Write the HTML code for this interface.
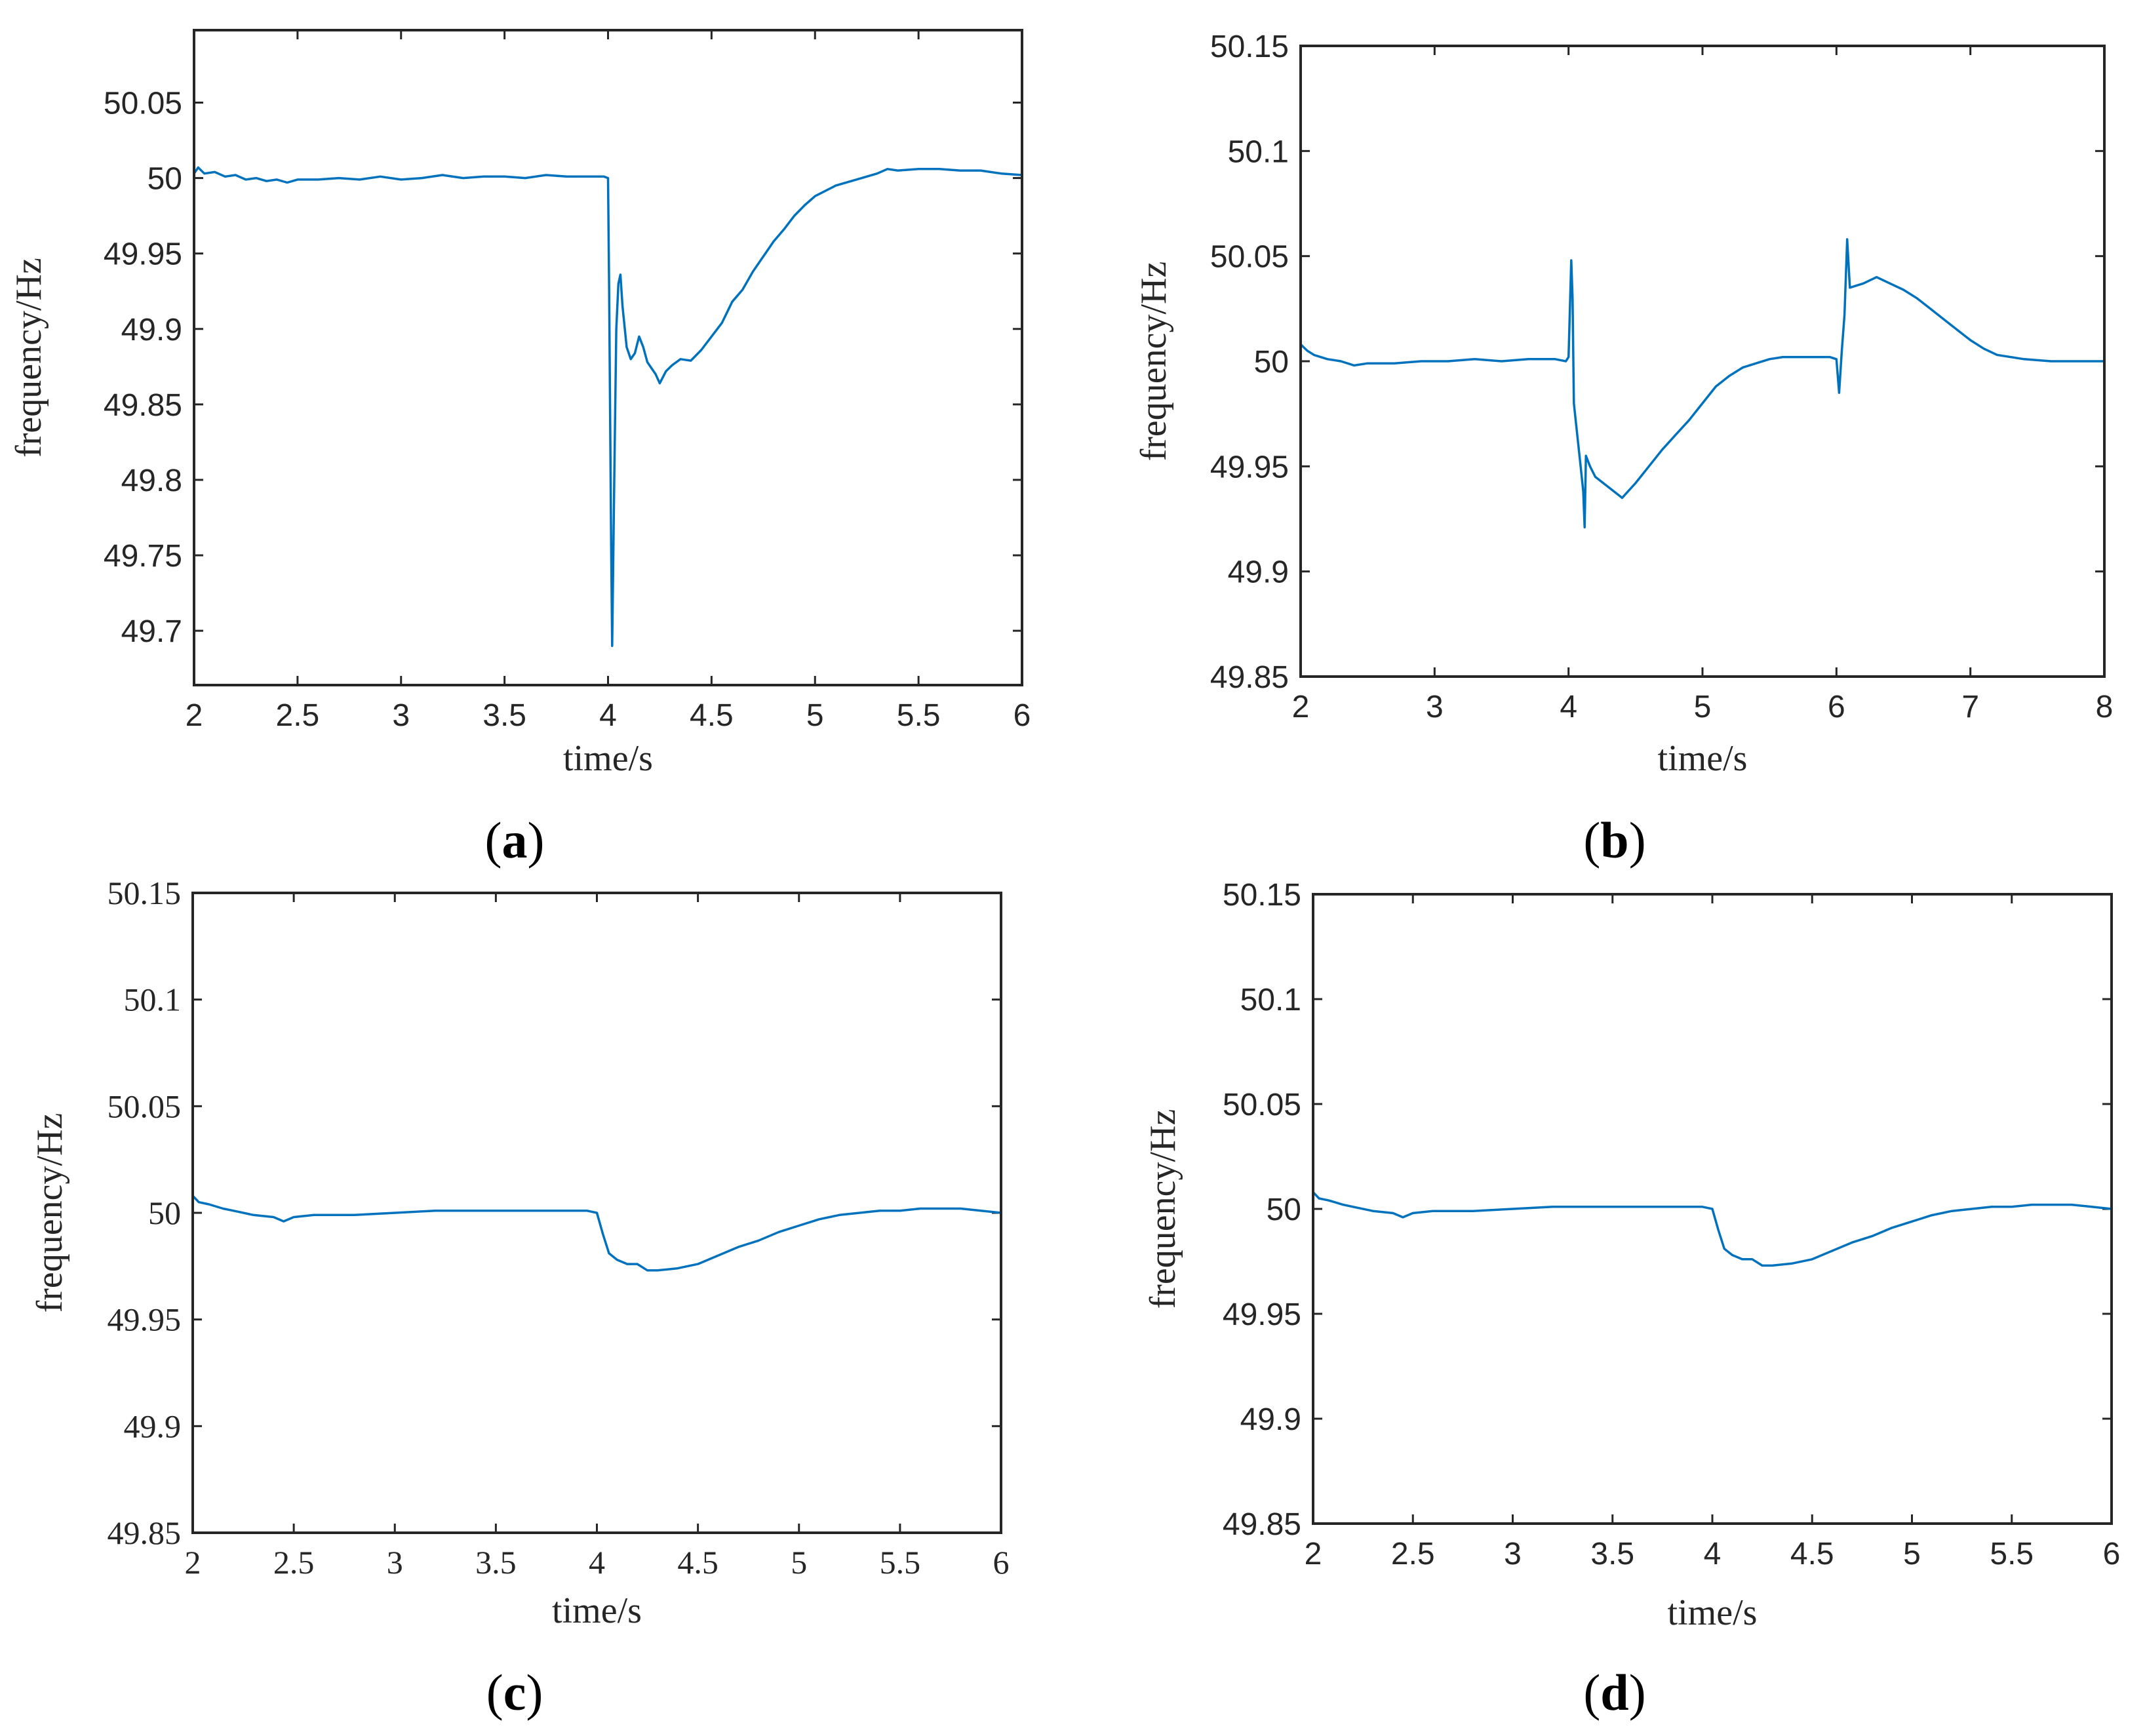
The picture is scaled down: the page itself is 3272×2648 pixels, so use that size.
<!DOCTYPE html>
<html><head><meta charset="utf-8"><style>
html,body{margin:0;padding:0;background:#fff;}
svg{display:block;}
</style></head><body>
<svg id="fig" width="3272" height="2648" viewBox="0 0 3272 2648" xmlns="http://www.w3.org/2000/svg"></svg>
<script>
// ---- data (panel a) ----
const timeA = [2.0,2.02,2.05,2.1,2.15,2.2,2.25,2.3,2.35,2.4,2.45,2.5,2.6,2.7,2.8,2.9,3.0,3.1,3.2,3.3,3.4,3.5,3.6,3.7,3.8,3.9,3.98,4.0,4.005,4.015,4.02,4.03,4.04,4.05,4.06,4.07,4.09,4.11,4.13,4.15,4.17,4.19,4.21,4.23,4.25,4.28,4.31,4.35,4.4,4.45,4.5,4.55,4.6,4.65,4.7,4.75,4.8,4.85,4.9,4.95,5.0,5.1,5.2,5.3,5.35,5.4,5.5,5.6,5.7,5.8,5.9,6.0];
const freqA = [50.003,50.007,50.003,50.004,50.001,50.002,49.999,50.000,49.998,49.999,49.997,49.999,49.999,50.000,49.999,50.001,49.999,50.000,50.002,50.000,50.001,50.001,50.000,50.002,50.001,50.001,50.001,50.000,49.930,49.760,49.690,49.800,49.900,49.930,49.936,49.915,49.888,49.880,49.884,49.895,49.888,49.878,49.874,49.870,49.864,49.872,49.876,49.880,49.879,49.886,49.895,49.904,49.918,49.926,49.938,49.948,49.958,49.966,49.975,49.982,49.988,49.995,49.999,50.003,50.006,50.005,50.006,50.006,50.005,50.005,50.003,50.002];
// ---- data (panel b) ----
const timeB = [2.0,2.05,2.1,2.2,2.3,2.4,2.5,2.7,2.9,3.1,3.3,3.5,3.7,3.9,3.98,4.0,4.02,4.03,4.04,4.06,4.09,4.11,4.12,4.13,4.16,4.2,4.3,4.4,4.5,4.6,4.7,4.8,4.9,5.0,5.1,5.2,5.3,5.4,5.5,5.6,5.8,5.95,6.0,6.02,6.04,6.06,6.08,6.1,6.15,6.2,6.3,6.4,6.5,6.6,6.7,6.8,6.9,7.0,7.1,7.2,7.4,7.6,7.8,8.0];
const freqB = [50.008,50.005,50.003,50.001,50.000,49.998,49.999,49.999,50.000,50.000,50.001,50.000,50.001,50.001,50.000,50.002,50.048,50.030,49.980,49.968,49.950,49.938,49.921,49.955,49.950,49.945,49.940,49.935,49.942,49.950,49.958,49.965,49.972,49.980,49.988,49.993,49.997,49.999,50.001,50.002,50.002,50.002,50.001,49.985,50.005,50.022,50.058,50.035,50.036,50.037,50.040,50.037,50.034,50.030,50.025,50.020,50.015,50.010,50.006,50.003,50.001,50.000,50.000,50.000];
// ---- data (panel c) ----
const timeC = [2.0,2.03,2.08,2.15,2.2,2.3,2.4,2.45,2.5,2.6,2.8,3.0,3.2,3.4,3.6,3.8,3.95,4.0,4.03,4.06,4.1,4.15,4.2,4.25,4.3,4.4,4.5,4.6,4.7,4.8,4.9,5.0,5.1,5.2,5.3,5.4,5.5,5.6,5.7,5.8,5.9,6.0];
const freqC = [50.008,50.005,50.004,50.002,50.001,49.999,49.998,49.996,49.998,49.999,49.999,50.000,50.001,50.001,50.001,50.001,50.001,50.000,49.990,49.981,49.978,49.976,49.976,49.973,49.973,49.974,49.976,49.980,49.984,49.987,49.991,49.994,49.997,49.999,50.000,50.001,50.001,50.002,50.002,50.002,50.001,50.000];
// ---- data (panel d) ----
const timeD = [2.0,2.03,2.08,2.15,2.2,2.3,2.4,2.45,2.5,2.6,2.8,3.0,3.2,3.4,3.6,3.8,3.95,4.0,4.03,4.06,4.1,4.15,4.2,4.25,4.3,4.4,4.5,4.6,4.7,4.8,4.9,5.0,5.1,5.2,5.3,5.4,5.5,5.6,5.7,5.8,5.9,6.0];
const freqD = [50.008,50.005,50.004,50.002,50.001,49.999,49.998,49.996,49.998,49.999,49.999,50.000,50.001,50.001,50.001,50.001,50.001,50.000,49.990,49.981,49.978,49.976,49.976,49.973,49.973,49.974,49.976,49.980,49.984,49.987,49.991,49.994,49.997,49.999,50.000,50.001,50.001,50.002,50.002,50.002,50.001,50.000];
// ---- tick labels ----
const xTicksA = ["2","2.5","3","3.5","4","4.5","5","5.5","6"];
const xTicksB = ["2","3","4","5","6","7","8"];
const yTicksA = ["49.7","49.75","49.8","49.85","49.9","49.95","50","50.05"];
const yTicksB = ["49.85","49.9","49.95","50","50.05","50.1","50.15"];

const NS="http://www.w3.org/2000/svg";
const svg=document.getElementById('fig');
function mk(tag,attrs,parent){const e=document.createElementNS(NS,tag);for(const k in attrs)e.setAttribute(k,attrs[k]);(parent||svg).appendChild(e);return e;}

function panel(id,box,xlim,ylim,xt,yt,t,f,opt){
  const g=mk('g',{});
  
  
  const sx=v=>box.x0+(v-xlim[0])/(xlim[1]-xlim[0])*(box.x1-box.x0);
  const sy=v=>box.y1-(v-ylim[0])/(ylim[1]-ylim[0])*(box.y1-box.y0);
  const tf=opt.tickFont, ts=opt.tickSize;
  xt.forEach(s=>{const v=parseFloat(s),x=sx(v);
    const l1=mk('line',{x1:x,x2:x,y1:box.y1,y2:box.y1-14,stroke:'#262626','stroke-width':3},g);
    
    
    mk('line',{x1:x,x2:x,y1:box.y0,y2:box.y0+14,stroke:'#262626','stroke-width':3},g);
    const tx=mk('text',{x:x,y:box.y1+62,'text-anchor':'middle','font-family':tf,'font-size':ts,fill:'#262626'},g);
    tx.textContent=s;
    
    
  });
  yt.forEach(s=>{const v=parseFloat(s),y=sy(v);
    const l1=mk('line',{x1:box.x0,x2:box.x0+14,y1:y,y2:y,stroke:'#262626','stroke-width':3},g);
    
    
    mk('line',{x1:box.x1,x2:box.x1-14,y1:y,y2:y,stroke:'#262626','stroke-width':3},g);
    const tx=mk('text',{x:box.x0-18,y:y+17,'text-anchor':'end','font-family':tf,'font-size':ts,fill:'#262626'},g);
    tx.textContent=s;
    
    
  });
  let d='';
  for(let i=0;i<t.length;i++){d+=(i?'L':'M')+sx(t[i]).toFixed(1)+','+sy(f[i]).toFixed(1);}
  const p=mk('path',{d:d,fill:'none',stroke:'#0072BD','stroke-width':3.5,'stroke-linejoin':'round'},g);
  
  
  const r=mk('rect',{x:box.x0,y:box.y0,width:box.x1-box.x0,height:box.y1-box.y0,fill:'none',stroke:'#262626','stroke-width':4},g);
  
  
  const cx=(box.x0+box.x1)/2, cy=(box.y0+box.y1)/2;
  const xl=mk('text',{x:cx,y:opt.xLabelY,'text-anchor':'middle','font-family':'Liberation Serif, serif','font-size':56,fill:'#262626'},g);
  xl.textContent='time/s';
  
  
  const yl=mk('text',{x:opt.yLabelX,y:cy,'text-anchor':'middle','font-family':'Liberation Serif, serif','font-size':56,fill:'#262626',transform:'rotate(-90 '+opt.yLabelX+' '+cy+')'},g);
  yl.textContent='frequency/Hz';
  
  
  const pl=mk('text',{x:opt.capX,y:opt.capY,'text-anchor':'middle','font-family':'Liberation Serif, serif','font-size':78,fill:'#000'},g);
  pl.innerHTML='(<tspan font-weight="bold">'+id+'</tspan>)';
  
  
}
const sans='Liberation Sans, Arial, sans-serif', serif='Liberation Serif, serif';
panel('a',{x0:296,y0:46,x1:1559,y1:1045},[2,6],[49.664,50.098],xTicksA,yTicksA,timeA,freqA,{tickFont:sans,tickSize:48,xLabelY:1175,yLabelX:62,capX:785,capY:1308});
panel('b',{x0:1984,y0:70,x1:3210,y1:1032},[2,8],[49.85,50.15],xTicksB,yTicksB,timeB,freqB,{tickFont:sans,tickSize:48,xLabelY:1175,yLabelX:1778,capX:2463,capY:1308});
panel('c',{x0:294,y0:1362,x1:1527,y1:2338},[2,6],[49.85,50.15],xTicksA,yTicksB,timeC,freqC,{tickFont:serif,tickSize:50,xLabelY:2475,yLabelX:94,capX:785,capY:2608});
panel('d',{x0:2003,y0:1364,x1:3221,y1:2324},[2,6],[49.85,50.15],xTicksA,yTicksB,timeD,freqD,{tickFont:sans,tickSize:48,xLabelY:2478,yLabelX:1792,capX:2463,capY:2608});
</script>
</body></html>
